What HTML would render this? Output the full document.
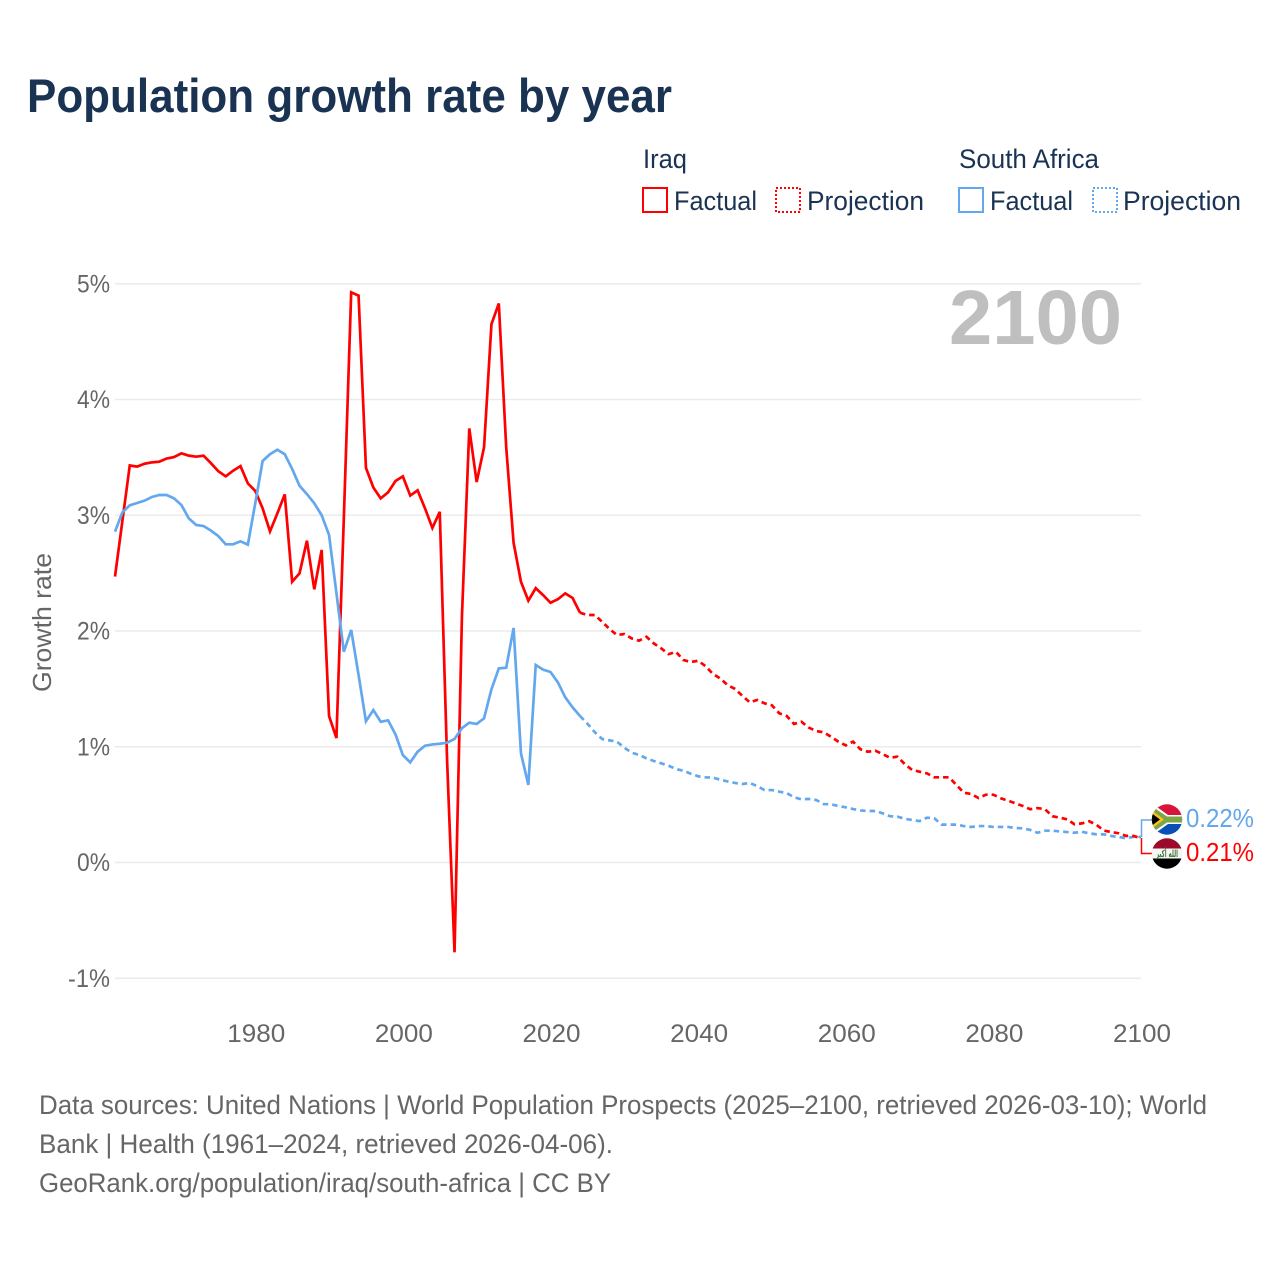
<!DOCTYPE html>
<html lang="en">
<head>
<meta charset="utf-8">
<title>Population growth rate by year</title>
<style>
html,body{margin:0;padding:0;background:#fff}
svg{display:block}
text{font-family:"Liberation Sans",sans-serif}
</style>
</head>
<body>
<svg id="chart" width="1280" height="1280" viewBox="0 0 1280 1280" xmlns="http://www.w3.org/2000/svg">
  <rect x="0" y="0" width="1280" height="1280" fill="#ffffff"/>
  <text x="27" y="112" font-size="47" font-weight="700" fill="#1a3353" textLength="645" lengthAdjust="spacingAndGlyphs">Population growth rate by year</text>

  <g fill="#1a3353" font-size="27">
    <text x="643" y="168" textLength="44" lengthAdjust="spacingAndGlyphs">Iraq</text>
    <text x="959" y="168" textLength="140" lengthAdjust="spacingAndGlyphs">South Africa</text>
    <g>
      <rect x="643" y="188" width="24" height="24" fill="none" stroke="#ff0000" stroke-width="2"/>
      <text x="674" y="210" textLength="83" lengthAdjust="spacingAndGlyphs">Factual</text>
    </g>
    <g>
      <rect x="776" y="188" width="24" height="24" fill="none" stroke="#ff0000" stroke-width="2" stroke-dasharray="2,2"/>
      <text x="807" y="210" textLength="117" lengthAdjust="spacingAndGlyphs">Projection</text>
    </g>
    <g>
      <rect x="959" y="188" width="24" height="24" fill="none" stroke="#63a7ee" stroke-width="2"/>
      <text x="990" y="210" textLength="83" lengthAdjust="spacingAndGlyphs">Factual</text>
    </g>
    <g>
      <rect x="1093" y="188" width="24" height="24" fill="none" stroke="#63a7ee" stroke-width="2" stroke-dasharray="2,2"/>
      <text x="1123" y="210" textLength="118" lengthAdjust="spacingAndGlyphs">Projection</text>
    </g>
  </g>

  <g id="grid"></g>
  <g id="yticks"></g>
  <g id="xticks"></g>

  <text x="949" y="344" font-size="77" font-weight="700" fill="#bfbfbf" textLength="173" lengthAdjust="spacingAndGlyphs">2100</text>
  <text transform="translate(51,692) rotate(-90)" font-size="26" fill="#666666" textLength="139" lengthAdjust="spacingAndGlyphs">Growth rate</text>

  <g id="series"></g>

  <path d="M1141.5 837V820H1152" fill="none" stroke="#63a7ee" stroke-width="1.5"/>
  <path d="M1141.5 838V853.5H1152" fill="none" stroke="#ff0000" stroke-width="1.5"/>

  <defs>
    <clipPath id="clip-za"><circle cx="1167" cy="819.5" r="15.2"/></clipPath>
    <clipPath id="clip-iq"><circle cx="1167" cy="853.5" r="15.2"/></clipPath>
  </defs>
  <g clip-path="url(#clip-za)">
    <rect x="1150" y="804" width="34" height="16" fill="#d9143a"/>
    <rect x="1150" y="820" width="34" height="16" fill="#0a4fb5"/>
    <path d="M1150 802L1168 815H1184V824H1168L1150 837Z" fill="#ffffff"/>
    <path d="M1150 805L1167 816.5H1184V822.5H1167L1150 834Z" fill="#7aa648"/>
    <path d="M1150 809L1164 819.5L1150 830Z" fill="#ffc21c"/>
    <path d="M1150 812L1160 819.5L1150 827Z" fill="#000000"/>
  </g>
  <g clip-path="url(#clip-iq)">
    <rect x="1150" y="838" width="34" height="10.5" fill="#9c0a2c"/>
    <rect x="1150" y="848.5" width="34" height="10" fill="#f5f5f5"/>
    <rect x="1150" y="858.5" width="34" height="11" fill="#000000"/>
    <text x="1156" y="857" font-size="10" font-weight="700" fill="#3f7a3a" textLength="22" lengthAdjust="spacingAndGlyphs" style="font-family:'DejaVu Sans',sans-serif">الله أكبر</text>
  </g>

  <text x="1186" y="827" font-size="26" fill="#63a7ee" textLength="68" lengthAdjust="spacingAndGlyphs">0.22%</text>
  <text x="1186" y="861" font-size="26" fill="#ff0000" textLength="68" lengthAdjust="spacingAndGlyphs">0.21%</text>

  <g fill="#666666" font-size="27">
    <text x="39" y="1114" textLength="1168" lengthAdjust="spacingAndGlyphs">Data sources: United Nations | World Population Prospects (2025–2100, retrieved 2026-03-10); World</text>
    <text x="39" y="1153" textLength="574" lengthAdjust="spacingAndGlyphs">Bank | Health (1961–2024, retrieved 2026-04-06).</text>
    <text x="39" y="1192" textLength="572" lengthAdjust="spacingAndGlyphs">GeoRank.org/population/iraq/south-africa | CC BY</text>
  </g>
</svg>

<script>
var firstFactualYear = 1961;
var firstProjectionYear = 2025;
var xTickYears = [1980, 2000, 2020, 2040, 2060, 2080, 2100];
var yTickValues = [-1, 0, 1, 2, 3, 4, 5];

var iraqFactual = [
  2.47, 2.95, 3.43, 3.42, 3.445, 3.457, 3.463, 3.49, 3.503, 3.535,
  3.515, 3.506, 3.515, 3.45, 3.38, 3.336, 3.385, 3.425, 3.275, 3.21,
  3.06, 2.86, 3.017, 3.18, 2.426, 2.498, 2.78, 2.36, 2.70, 1.266,
  1.075, 2.97, 4.926, 4.897, 3.41, 3.24, 3.146, 3.198, 3.296, 3.336,
  3.17, 3.215, 3.06, 2.89, 3.03, 0.87, -0.776, 2.12, 3.75, 3.287,
  3.587, 4.65, 4.83, 3.59, 2.763, 2.426, 2.262, 2.37, 2.31, 2.244,
  2.274, 2.325, 2.285, 2.158
];
var iraqProjection = [
  2.138, 2.138, 2.08, 2.017, 1.965, 1.974,
  1.936, 1.916, 1.95, 1.893, 1.85, 1.80, 1.82, 1.75, 1.732, 1.743,
  1.697, 1.63, 1.59, 1.533, 1.5, 1.44, 1.384, 1.404, 1.375, 1.358,
  1.289, 1.266, 1.197, 1.216, 1.165, 1.136, 1.125, 1.087, 1.044, 1.012,
  1.044, 0.978, 0.957, 0.966, 0.937, 0.905, 0.914, 0.85, 0.80, 0.785,
  0.77, 0.736, 0.736, 0.736, 0.67, 0.603, 0.592, 0.557, 0.586, 0.586,
  0.555, 0.534, 0.511, 0.488, 0.46, 0.47, 0.46, 0.40, 0.387, 0.373,
  0.33, 0.338, 0.356, 0.324, 0.275, 0.263, 0.252, 0.23, 0.229, 0.21
];
var southAfricaFactual = [
  2.858, 3.025, 3.086, 3.106, 3.126, 3.158, 3.175, 3.175, 3.146, 3.088,
  2.973, 2.916, 2.907, 2.867, 2.82, 2.749, 2.749, 2.775, 2.746, 3.103,
  3.469, 3.527, 3.566, 3.527, 3.40, 3.255, 3.183, 3.103, 3.0, 2.83,
  2.328, 1.82, 2.009, 1.62, 1.22, 1.317, 1.216, 1.228, 1.107, 0.928,
  0.865, 0.957, 1.009, 1.02, 1.026, 1.035, 1.067, 1.16, 1.208, 1.197,
  1.245, 1.496, 1.677, 1.683, 2.026, 0.943, 0.67, 1.706, 1.666, 1.646,
  1.557, 1.427, 1.34, 1.266
];
var southAfricaProjection = [
  1.2, 1.126, 1.067, 1.055, 1.044, 0.992,
  0.949, 0.929, 0.90, 0.877, 0.857, 0.836, 0.808, 0.793, 0.767, 0.745,
  0.736, 0.733, 0.715, 0.70, 0.687, 0.678, 0.687, 0.66, 0.626, 0.626,
  0.612, 0.60, 0.563, 0.546, 0.549, 0.54, 0.505, 0.503, 0.488, 0.477,
  0.462, 0.45, 0.445, 0.445, 0.425, 0.40, 0.396, 0.378, 0.367, 0.358,
  0.387, 0.382, 0.327, 0.327, 0.327, 0.315, 0.307, 0.315, 0.315, 0.307,
  0.307, 0.307, 0.298, 0.295, 0.281, 0.257, 0.275, 0.275, 0.269, 0.263,
  0.257, 0.265, 0.252, 0.243, 0.243, 0.229, 0.22, 0.21, 0.222, 0.22
];

var SVG_NS = 'http://www.w3.org/2000/svg';
function xScale(year) { return 115 + (year - 1961) * 7.381; }
function yScale(value) { return 862.5 - value * 115.75; }

function buildPath(startYear, values, prefix) {
  var d = prefix;
  for (var i = 0; i < values.length; i++) {
    d += (d === '' ? 'M' : 'L') + xScale(startYear + i).toFixed(2) + ' ' + yScale(values[i]).toFixed(2);
  }
  return d;
}

var grid = document.getElementById('grid');
var yticks = document.getElementById('yticks');
yTickValues.forEach(function (v) {
  var line = document.createElementNS(SVG_NS, 'line');
  
  
  line.setAttribute('x1', xScale(1961));
  line.setAttribute('x2', xScale(2100));
  line.setAttribute('y1', yScale(v));
  line.setAttribute('y2', yScale(v));
  line.setAttribute('stroke', '#ebebeb');
  line.setAttribute('stroke-width', '1.5');
  grid.appendChild(line);

  var label = document.createElementNS(SVG_NS, 'text');
  
  
  label.setAttribute('x', 110);
  label.setAttribute('y', yScale(v) + 8.5);
  label.setAttribute('text-anchor', 'end');
  label.setAttribute('font-size', '25');
  label.setAttribute('fill', '#666666');
  label.setAttribute('textLength', v < 0 ? '42' : '33');
  label.setAttribute('lengthAdjust', 'spacingAndGlyphs');
  label.textContent = v + '%';
  yticks.appendChild(label);
});

var xticks = document.getElementById('xticks');
xTickYears.forEach(function (year) {
  var label = document.createElementNS(SVG_NS, 'text');
  
  
  label.setAttribute('x', xScale(year) - 28);
  label.setAttribute('y', 1042);
  label.setAttribute('font-size', '25');
  label.setAttribute('fill', '#666666');
  label.setAttribute('textLength', '58');
  label.setAttribute('lengthAdjust', 'spacingAndGlyphs');
  label.textContent = String(year);
  xticks.appendChild(label);
});

var seriesGroup = document.getElementById('series');
function connectorStart(values) {
  var year = firstProjectionYear - 1;
  return 'M' + xScale(year).toFixed(2) + ' ' + yScale(values[values.length - 1]).toFixed(2);
}

var saProj = document.createElementNS(SVG_NS, 'path');


saProj.setAttribute('d', buildPath(firstProjectionYear, southAfricaProjection, connectorStart(southAfricaFactual)));
saProj.setAttribute('fill', 'none');
saProj.setAttribute('stroke', '#63a7ee');
saProj.setAttribute('stroke-width', '2.7');
saProj.setAttribute('stroke-dasharray', '5.5,4');
seriesGroup.appendChild(saProj);

var iqProj = document.createElementNS(SVG_NS, 'path');


iqProj.setAttribute('d', buildPath(firstProjectionYear, iraqProjection, connectorStart(iraqFactual)));
iqProj.setAttribute('fill', 'none');
iqProj.setAttribute('stroke', '#ff0000');
iqProj.setAttribute('stroke-width', '2.7');
iqProj.setAttribute('stroke-dasharray', '5.5,4');
seriesGroup.appendChild(iqProj);

var iqFact = document.createElementNS(SVG_NS, 'path');


iqFact.setAttribute('d', buildPath(firstFactualYear, iraqFactual, ''));
iqFact.setAttribute('fill', 'none');
iqFact.setAttribute('stroke', '#ff0000');
iqFact.setAttribute('stroke-width', '2.7');
iqFact.setAttribute('stroke-linejoin', 'miter');
seriesGroup.appendChild(iqFact);

var saFact = document.createElementNS(SVG_NS, 'path');


saFact.setAttribute('d', buildPath(firstFactualYear, southAfricaFactual, ''));
saFact.setAttribute('fill', 'none');
saFact.setAttribute('stroke', '#63a7ee');
saFact.setAttribute('stroke-width', '2.7');
seriesGroup.appendChild(saFact);
</script>
</body>
</html>
